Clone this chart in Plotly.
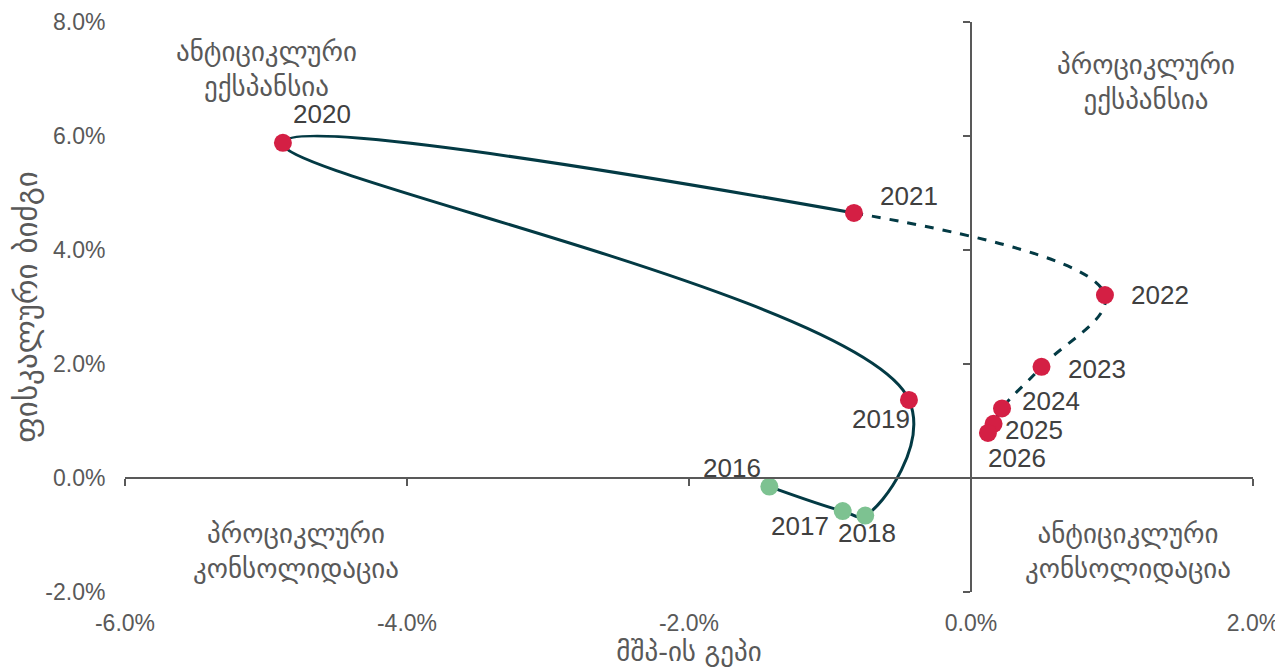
import plotly.graph_objects as go

# data (percent)
years = [2016, 2017, 2018, 2019, 2020, 2021, 2022, 2023, 2024, 2025, 2026]
gap = [-1.43, -0.91, -0.75, -0.44, -4.88, -0.83, 0.95, 0.50, 0.22, 0.16, 0.12]
impulse = [-0.15, -0.58, -0.66, 1.37, 5.88, 4.65, 3.21, 1.95, 1.22, 0.95, 0.79]
pt_colors = ['#7DC291'] * 3 + ['#D41F44'] * 8

x_ticks = [-6, -4, -2, 0, 2]
x_labels = ['-6.0%', '-4.0%', '-2.0%', '0.0%', '2.0%']
y_ticks = [-2, 0, 2, 4, 6, 8]
y_labels = ['-2.0%', '0.0%', '2.0%', '4.0%', '6.0%', '8.0%']

hist_n = 6  # 2016..2021 solid, then dashed

line_col = '#033A44'
grey = '#595959'
txt = '#404040'

fig = go.Figure()
fig.add_trace(go.Scatter(x=gap[:hist_n], y=impulse[:hist_n], mode='lines',
                         line=dict(color=line_col, width=3, shape='spline', smoothing=1.15),
                         hoverinfo='skip'))
fig.add_trace(go.Scatter(x=gap[hist_n - 1:], y=impulse[hist_n - 1:], mode='lines',
                         line=dict(color=line_col, width=3, dash='dash', shape='spline', smoothing=1.15),
                         hoverinfo='skip'))
fig.add_trace(go.Scatter(x=gap, y=impulse, mode='markers', text=years,
                         marker=dict(color=pt_colors, size=18),
                         hovertemplate='%{text}: %{x:.2f}%, %{y:.2f}%<extra></extra>'))
# empty trace so the zero-crossing axes get drawn
fig.add_trace(go.Scatter(x=[None], y=[None], xaxis='x2', yaxis='y2', mode='markers',
                         hoverinfo='skip'))

# year label placement: (xanchor, yanchor, xshift, yshift)
lab_pos = {
    2016: ('right', 'bottom', -6, 2),
    2017: ('right', 'top', -12, 2),
    2018: ('center', 'top', 2, 0),
    2019: ('right', 'top', 3, -2),
    2020: ('left', 'bottom', 8, 12),
    2021: ('left', 'bottom', 24, 0),
    2022: ('left', 'middle', 24, 0),
    2023: ('left', 'middle', 24, -2),
    2024: ('left', 'middle', 18, 7),
    2025: ('left', 'middle', 9, -6),
    2026: ('left', 'top', -2, -8),
}
for yr, xv, yv in zip(years, gap, impulse):
    xa, ya, xs, ys = lab_pos[yr]
    fig.add_annotation(x=xv, y=yv, text=str(yr), showarrow=False,
                       xanchor=xa, yanchor=ya, xshift=xs, yshift=ys,
                       font=dict(size=26, color=txt, family='Liberation Sans, Arial'))

quad = [
    ('ანტიციკლური<br>ექსპანსია', 0.125, 0.918),
    ('პროციკლური<br>ექსპანსია', 0.905, 0.895),
    ('პროციკლური<br>კონსოლიდაცია', 0.152, 0.072),
    ('ანტიციკლური<br>კონსოლიდაცია', 0.889, 0.072),
]
for t, px, py in quad:
    fig.add_annotation(x=px, y=py, xref='paper', yref='paper', text=t, showarrow=False,
                       xanchor='center', yanchor='middle',
                       font=dict(size=27, color=grey, family='DejaVu Sans'))

tick_font = dict(size=23, color=grey, family='Liberation Sans, Arial')
fig.update_layout(
    width=1283, height=671,
    margin=dict(l=117, r=38, t=14, b=87),
    paper_bgcolor='white', plot_bgcolor='white',
    showlegend=False,
    xaxis=dict(range=[-6, 2], tickvals=x_ticks, ticktext=x_labels, automargin=False,
               showgrid=False, zeroline=False, showline=False,
               ticks='outside', ticklen=10, tickcolor='rgba(0,0,0,0)',
               tickfont=tick_font,
               title=dict(text='მშპ-ის გეპი', font=dict(size=27, color=grey, family='DejaVu Sans'),
                          standoff=6)),
    yaxis=dict(range=[-2, 8], tickvals=y_ticks, ticktext=y_labels, automargin=False,
               showgrid=False, zeroline=False, showline=False,
               ticks='outside', ticklen=14, tickcolor='rgba(0,0,0,0)',
               tickfont=tick_font,
               title=dict(text='ფისკალური ბიძგი', font=dict(size=31, color=grey, family='DejaVu Sans'),
                          standoff=8)),
    # axis lines crossing at zero
    xaxis2=dict(range=[-6, 2], tickvals=x_ticks, overlaying='x', anchor='free', position=0.2,
                automargin=False,
                showline=True, linecolor=grey, linewidth=2, ticks='outside', ticklen=7,
                tickcolor=grey, tickwidth=2, showticklabels=False, showgrid=False, zeroline=False),
    yaxis2=dict(range=[-2, 8], tickvals=y_ticks, overlaying='y', anchor='free', position=0.75, side='left',
                automargin=False,
                showline=True, linecolor=grey, linewidth=2, ticks='outside', ticklen=7,
                tickcolor=grey, tickwidth=2, showticklabels=False, showgrid=False, zeroline=False),
)

fig.write_html("out.html")
